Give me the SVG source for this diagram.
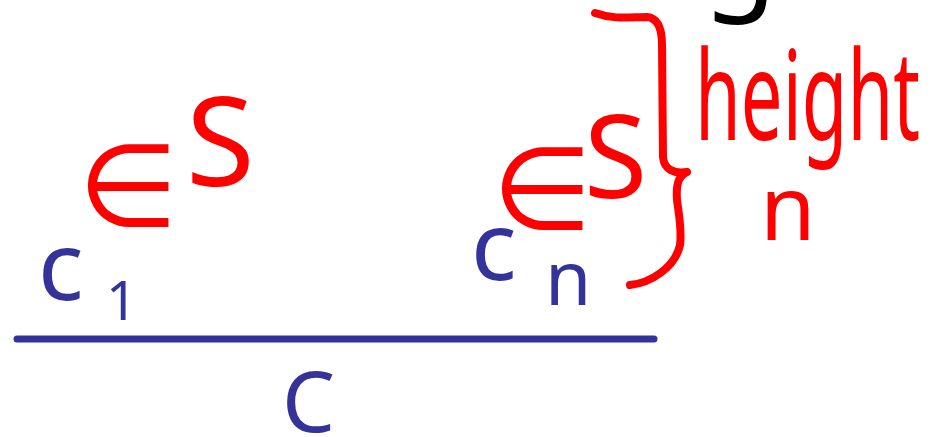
<svg xmlns="http://www.w3.org/2000/svg" width="935" height="437" viewBox="0 0 935 437">
<style>
.red{fill:#ff0000;font-family:"Noto Sans","DejaVu Sans",sans-serif}
.blue{fill:#333399;font-family:"Noto Sans","DejaVu Sans",sans-serif}
.blk{fill:#000;font-family:"Noto Sans","DejaVu Sans",sans-serif}
</style>
<g id="connectors">
<line x1="17" y1="339" x2="654" y2="339" stroke="#333399" stroke-width="7" stroke-linecap="round"/>
<path d="M595,13 C615,20 630,17 647,17 C658,18 662,28 662,45 L663,157 C664,170 675,174 687,172 M687,172 C678,176 676,185 677,200 C679,215 682,230 680,245 C675,268 650,283 630,285" fill="none" stroke="#ff0000" stroke-width="8" stroke-linecap="round" stroke-linejoin="round"/>
</g>
<g id="top-fragment"><text class="blk" x="703" y="-4" font-size="120">g</text></g>
<g id="left-member"><text class="red" x="78" y="226" font-size="115">∈</text><text class="red" x="186" y="186" font-size="125">S</text></g>
<g id="c1"><text class="blue" x="38" y="300" font-size="95">c</text><text class="blue" x="106" y="320" font-size="55">1</text></g>
<g id="right-member"><text class="red" x="492" y="229" font-size="115">∈</text><text class="red" x="584" y="198" font-size="115">S</text></g>
<g id="cn"><text class="blue" x="471" y="280" font-size="95">c</text><text class="blue" x="545" y="305" font-size="75">n</text></g>
<g id="C"><text class="blue" x="282" y="432" font-size="84">C</text></g>
<g id="height"><text class="red" x="695" y="140" font-size="124" textLength="225" lengthAdjust="spacingAndGlyphs">height</text><text class="red" x="760" y="240" font-size="90">n</text></g>
</svg>
